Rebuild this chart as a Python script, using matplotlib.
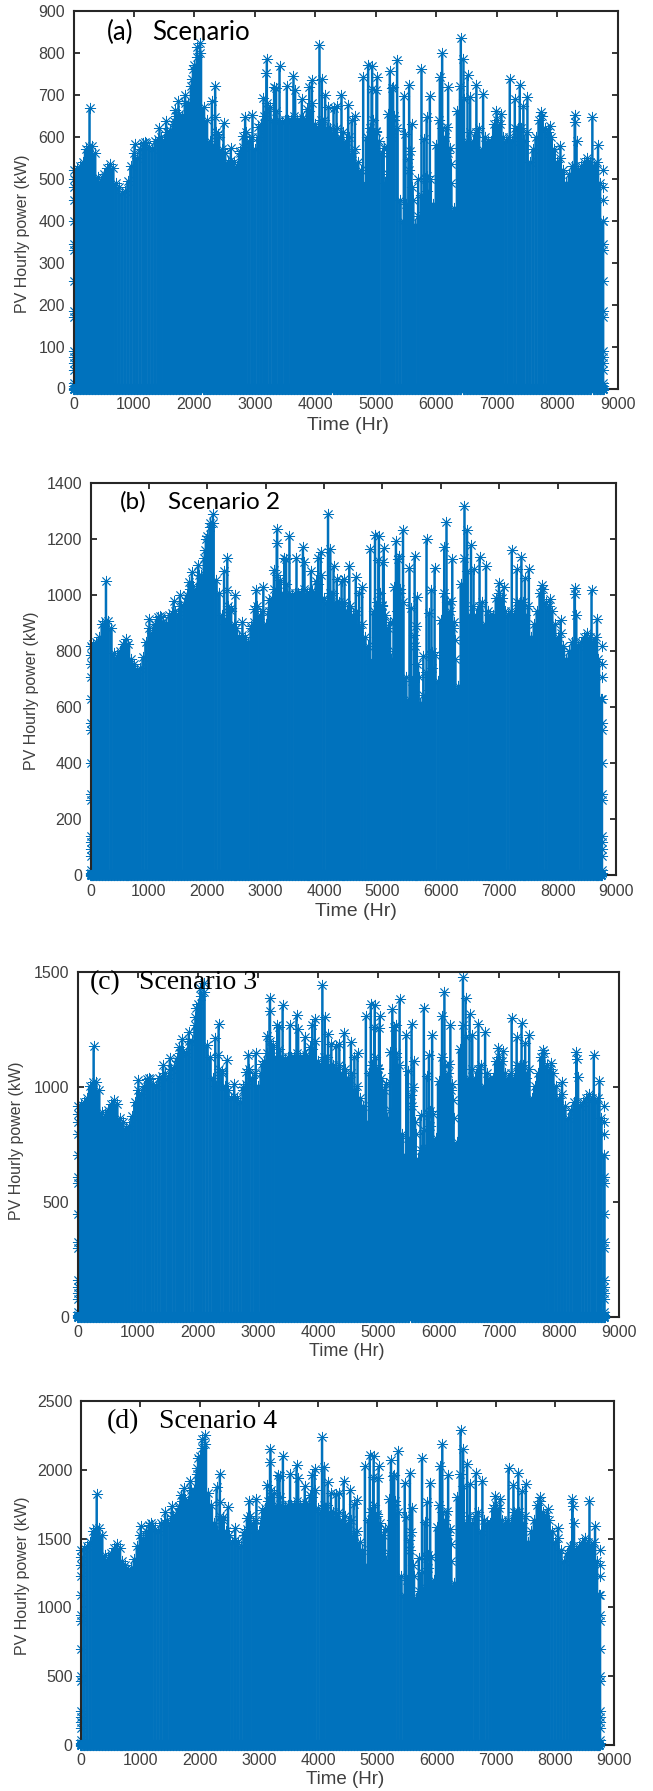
import numpy as np
import matplotlib
matplotlib.use('agg')
import matplotlib.pyplot as plt

W, H = 653, 1791
BLUE = '#0072BD'
DARK = '#262626'

# top of the solid blue mass, one stem every 50 h
base_hours = np.arange(0, 8800, 50)
base_a = [500,525,530,540,570,578,578,560,505,495,
          510,525,535,525,490,480,465,470,495,530,
          560,550,570,585,585,575,570,590,595,600,
          590,610,615,630,650,655,650,680,680,720,
          770,790,800,670,640,590,570,610,600,570,
          560,540,545,540,530,560,575,610,590,600,
          570,600,630,650,680,670,640,660,640,635,
          640,640,640,650,640,640,645,640,660,680,
          630,620,640,640,620,620,610,620,600,610,
          590,600,560,570,540,520,480,600,620,640,
          610,590,560,490,510,600,640,620,450,400,
          440,520,480,390,410,460,420,470,500,440,
          580,640,620,600,560,420,430,660,720,690,
          590,610,590,610,620,570,600,590,590,630,
          640,630,600,590,600,590,620,620,620,590,
          610,540,570,600,640,650,620,610,600,570,
          540,550,520,490,510,530,530,520,530,540,
          550,540,530,540,490,400]
base_b = [788,827,835,850,898,910,910,882,795,780,
          803,827,843,827,772,756,732,740,780,835,
          882,866,898,921,921,906,898,929,937,945,
          929,961,969,992,1024,1032,1024,1071,1071,1134,
          1213,1244,1260,1055,1008,929,898,961,945,898,
          882,850,858,850,835,882,906,961,929,945,
          898,945,992,1024,1071,1055,1008,1040,1008,1000,
          1008,1008,1008,1024,1008,1008,1016,1008,1040,1071,
          992,976,1008,1008,976,976,961,976,945,961,
          929,945,882,898,850,819,756,945,976,1008,
          961,929,882,772,803,945,1008,976,709,630,
          693,819,756,614,646,725,662,740,788,693,
          913,1008,976,945,882,662,677,1040,1134,1087,
          929,961,929,961,976,898,945,929,929,992,
          1008,992,945,929,945,929,976,976,976,929,
          961,850,898,945,1008,1024,976,961,945,898,
          850,866,819,772,803,835,835,819,835,850,
          866,850,835,850,772,630]
base_c = [883,927,935,953,1006,1020,1020,988,891,874,
          900,927,944,927,865,847,821,830,874,935,
          988,971,1006,1033,1033,1015,1006,1041,1050,1059,
          1041,1077,1085,1112,1147,1156,1147,1200,1200,1271,
          1359,1394,1412,1183,1130,1041,1006,1077,1059,1006,
          988,953,962,953,935,988,1015,1077,1041,1059,
          1006,1059,1112,1147,1200,1183,1130,1165,1130,1121,
          1130,1130,1130,1147,1130,1130,1138,1130,1165,1200,
          1112,1094,1130,1130,1094,1094,1077,1094,1059,1077,
          1041,1059,988,1006,953,918,847,1059,1094,1130,
          1077,1041,988,865,900,1059,1130,1094,794,706,
          777,918,847,688,724,812,741,830,883,777,
          1024,1130,1094,1059,988,741,759,1165,1271,1218,
          1041,1077,1041,1077,1094,1006,1059,1041,1041,1112,
          1130,1112,1059,1041,1059,1041,1094,1094,1094,1041,
          1077,953,1006,1059,1130,1147,1094,1077,1059,1006,
          953,971,918,865,900,935,935,918,935,953,
          971,953,935,953,865,706]
base_d = [1365,1433,1447,1474,1556,1578,1578,1529,1379,1351,
          1392,1433,1461,1433,1338,1310,1269,1283,1351,1447,
          1529,1502,1556,1597,1597,1570,1556,1611,1624,1638,
          1611,1665,1679,1720,1775,1788,1775,1856,1856,1966,
          2102,2157,2184,1829,1747,1611,1556,1665,1638,1556,
          1529,1474,1488,1474,1447,1529,1570,1665,1611,1638,
          1556,1638,1720,1775,1856,1829,1747,1802,1747,1734,
          1747,1747,1747,1775,1747,1747,1761,1747,1802,1856,
          1720,1693,1747,1747,1693,1693,1665,1693,1638,1665,
          1611,1638,1529,1556,1474,1420,1310,1638,1693,1747,
          1665,1611,1529,1338,1392,1638,1747,1693,1229,1092,
          1201,1420,1310,1065,1119,1256,1147,1283,1365,1201,
          1583,1747,1693,1638,1529,1147,1174,1802,1966,1884,
          1611,1665,1611,1665,1693,1556,1638,1611,1611,1720,
          1747,1720,1638,1611,1638,1611,1693,1693,1693,1611,
          1665,1474,1556,1638,1747,1775,1693,1665,1638,1556,
          1474,1502,1420,1338,1392,1447,1447,1420,1447,1474,
          1502,1474,1447,1474,1338,1092]

# individual spikes standing out of the mass
spike_hours = [265,1009,1186,1422,1532,1654,1681,1736,1846,1957,1975,2040,2095,2288,2343,2340,2398,
               2481,2602,2756,2839,2800,2960,3059,3142,3197,3190,3407,3318,3350,3528,3638,3665,3776,
               3942,3900,3859,4068,4107,4162,4217,4300,4350,4432,4543,4600,4653,4791,4873,4939,4930,
               5010,5022,5231,5260,5286,5352,5463,5551,5590,5755,5840,5893,6058,6097,6196,6405,6449,
               6516,6560,6663,6774,6995,7077,7215,7298,7380,7440,7507,7738,7876,8053,8290,8295,8320,
               8581,8675,
               4950,5000,5130,5190,5200,5300,5490,5540,5570,5620,5700,5800,5820,5850,6170,6230,6240,6250]
spike_a = [668,582,588,620,637,637,664,684,700,738,762,814,824,686,721,646,606,
           633,572,566,646,602,652,624,692,786,752,768,718,715,720,744,710,690,
           734,718,666,818,738,698,670,668,672,700,676,640,650,741,770,769,714,
           710,741,757,715,718,782,696,722,630,762,646,696,742,800,718,836,786,
           746,694,722,702,662,654,737,690,724,674,694,658,626,578,652,634,590,
           646,581,
           610,614,574,578,654,650,606,546,566,450,498,594,502,507,622,574,534,490]
spike_b = [1052,917,926,980,1000,1003,1048,1083,1107,1163,1200,1258,1292,1086,1133,1018,955,
           1000,905,890,1018,950,1030,985,1089,1238,1188,1211,1133,1128,1135,1173,1120,1088,
           1155,1132,1050,1292,1164,1104,1057,1052,1060,1104,1065,1008,1030,1167,1214,1212,1125,
           1118,1169,1194,1128,1139,1234,1098,1140,995,1202,1018,1098,1173,1262,1131,1318,1234,
           1178,1095,1137,1105,1044,1030,1161,1093,1137,1062,1093,1036,988,911,1027,1004,931,
           1020,914,
           961,967,904,910,1030,1024,955,860,891,709,784,936,791,799,980,904,841,772]
spike_c = [1178,1030,1040,1097,1125,1125,1175,1208,1238,1305,1345,1430,1452,1212,1272,1140,1070,
           1118,1012,1000,1140,1065,1150,1100,1222,1388,1330,1355,1268,1260,1270,1312,1252,1218,
           1295,1268,1175,1445,1305,1232,1185,1180,1185,1235,1195,1130,1150,1308,1360,1358,1260,
           1255,1308,1338,1262,1270,1382,1228,1275,1112,1345,1140,1228,1310,1412,1268,1478,1388,
           1318,1225,1275,1240,1170,1155,1302,1218,1278,1190,1225,1162,1105,1020,1152,1120,1042,
           1140,1025,
           1077,1084,1013,1020,1154,1147,1070,964,999,794,879,1048,886,895,1098,1013,943,865]
spike_d = [1825,1595,1610,1695,1735,1740,1815,1868,1915,2015,2085,2225,2255,1875,1970,1765,1660,
           1730,1575,1545,1770,1650,1785,1705,1890,2150,2060,2100,1965,1955,1970,2035,1940,1885,
           2005,1960,1820,2240,2020,1910,1830,1825,1835,1915,1850,1750,1780,2025,2105,2100,1950,
           1940,2025,2070,1955,1965,2140,1905,1975,1725,2085,1765,1905,2030,2190,1965,2290,2150,
           2040,1900,1975,1920,1810,1790,2015,1890,1980,1845,1900,1800,1715,1580,1785,1735,1615,
           1770,1590,
           1665,1676,1567,1578,1785,1775,1654,1491,1545,1229,1360,1622,1370,1384,1698,1567,1458,1338]

# markers that stick out at the two ends of the year
edge_hours = [4, 8756]
edge_a = [5,12,45,60,75,90,170,185,255,330,345,400,450,480,520]
edge_b = [8,20,70,95,118,142,268,291,400,520,545,630,708,756,820]
edge_c = [10,22,80,106,132,160,300,326,450,582,610,706,795,848,918]
edge_d = [15,35,123,164,205,246,464,505,696,900,942,1092,1228,1310,1420]

xticks = list(range(0, 10000, 1000))
yticks_a = list(range(0, 1000, 100))
yticks_b = list(range(0, 1600, 200))
yticks_c = [0, 500, 1000, 1500]
yticks_d = [0, 500, 1000, 1500, 2000, 2500]

panels = [
    (base_a, spike_a, edge_a, yticks_a, (73.5, 617.7, 10.7, 388.5), (23, 234), (348, 425), 14),
    (base_b, spike_b, edge_b, yticks_b, (90.5, 616.0, 483.3, 875.5), (32, 691), (356, 911), 14),
    (base_c, spike_c, edge_c, yticks_c, (77.7, 619.0, 972.0, 1317.0), (17, 1141), (347, 1351), 13),
    (base_d, spike_d, edge_d, yticks_d, (81.0, 614.3, 1401.0, 1745.0), (23, 1576), (345, 1779), 13.5),
]
notes = [
    ('(a)', 107, 'Scenario', 152, 32, 'Lato', 18.5),
    ('(b)', 120, 'Scenario 2', 168, 502, 'Lato', 17.5),
    ('(c)', 90, 'Scenario 3', 139, 983, 'Liberation Serif', 20),
    ('(d)', 107, 'Scenario 4', 159, 1422, 'Liberation Serif', 20),
]


def draw_stems(ax, hours, values, width):
    markers, stems, baseline = ax.stem(hours, values, linefmt='-', basefmt=' ')
    # no snapping, it leaves white hairlines between the stems
    plt.setp(stems, color=BLUE, linewidth=width, capstyle='butt', snap=False)
    markers.set(marker=(8, 2, 0), markersize=8, markeredgewidth=0.6, color=BLUE,
                markeredgecolor=BLUE, linestyle='none', clip_on=False)


plt.rcParams['font.family'] = ['Liberation Sans', 'DejaVu Sans']
fig = plt.figure(figsize=(W / 100, H / 100), dpi=100)

for base, spike, edge, yticks, box, ylab, xlab, xlab_size in panels:
    left, right, top, bottom = box
    ax = fig.add_axes([left / W, 1 - bottom / H, (right - left) / W, (bottom - top) / H])
    draw_stems(ax, base_hours, base, 2.6)
    draw_stems(ax, spike_hours, spike, 1.8)
    for hour in edge_hours:
        ax.plot([hour] * len(edge), edge, linestyle='none', marker=(8, 2, 0), markersize=8,
                markeredgewidth=0.6, color=BLUE, clip_on=False)
    # night hours sit on zero and make the band under the axis, on top of the spine
    ax.plot(base_hours, [0] * len(base_hours), linestyle='none', marker=(8, 2, 0), markersize=8,
            markeredgewidth=1.4, color=BLUE, clip_on=False, zorder=3)
    ax.set_xlim(0, 9000)
    ax.set_ylim(yticks[0], yticks[-1])
    ax.set_xticks(xticks)
    ax.set_yticks(yticks)
    ax.tick_params(direction='in', top=True, right=True, length=4, width=1.3, color=DARK,
                   labelcolor='#404040', labelsize=11.5, pad=6)
    for spine in ax.spines.values():
        spine.set_linewidth(1.5)
        spine.set_color(DARK)
    fig.text(ylab[0] / W, 1 - ylab[1] / H, 'PV Hourly power (kW)', rotation=90, ha='center',
             va='center', fontsize=11.5, color='#404040')
    fig.text(xlab[0] / W, 1 - xlab[1] / H, 'Time (Hr)', ha='center', va='center',
             fontsize=xlab_size, color='#404040')

for tag, tag_x, name, name_x, y, family, size in notes:
    fig.text(tag_x / W, 1 - y / H, tag, ha='left', va='center', family=family, fontsize=size,
             color='black', zorder=10)
    fig.text(name_x / W, 1 - y / H, name, ha='left', va='center', family=family, fontsize=size,
             color='black', zorder=10)

fig.savefig('out.png', dpi=100)
plt.close(fig)
